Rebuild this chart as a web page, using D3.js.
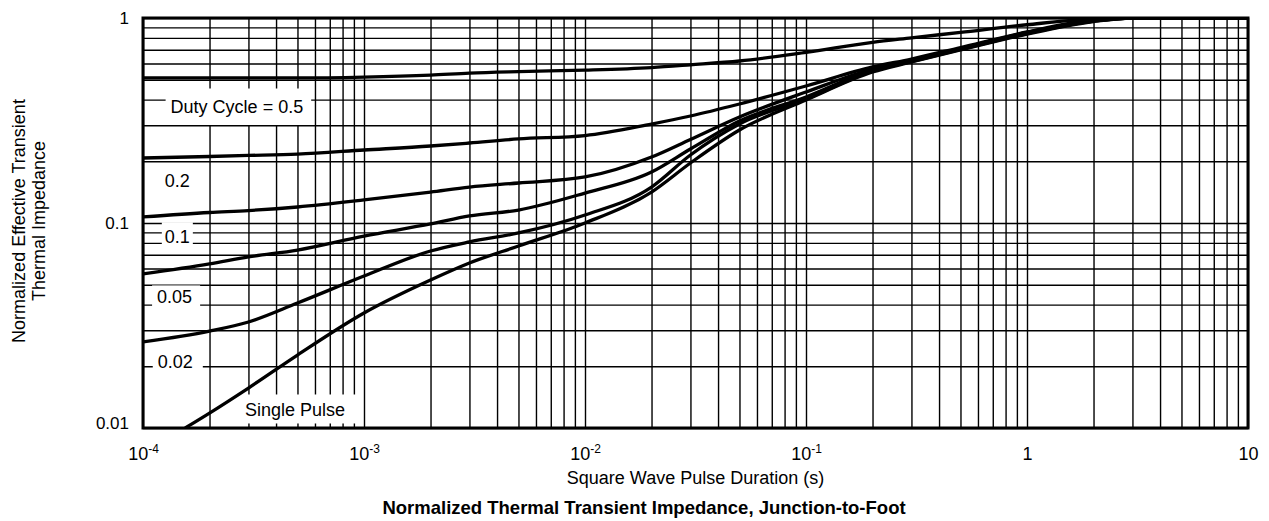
<!DOCTYPE html>
<html><head><meta charset="utf-8">
<script src="https://cdn.jsdelivr.net/npm/d3@7"></script>
<style>
body{margin:0;background:#fff;}
text{font-family:"Liberation Sans",Arial,Helvetica,sans-serif;fill:#000;}
</style>
</head><body><svg id="c" width="1269" height="521"></svg>
<script>
// ---------- data ----------
const pulseT = [1e-4,2e-4,3e-4,5e-4,1e-3,2e-3,3e-3,5e-3,1e-2,2e-2,3e-2,5e-2,0.1,0.2,0.3,0.5,1,2,3,10];
const duty05 = [0.51,0.51,0.51,0.51,0.515,0.527,0.539,0.548,0.557,0.573,0.591,0.617,0.68,0.761,0.80,0.851,0.927,0.991,1,1];
const duty02 = [0.2075,0.211,0.2135,0.217,0.227,0.2375,0.2456,0.257,0.267,0.304,0.3326,0.3806,0.466,0.577,0.631,0.718,0.855,0.978,1,1];
const duty01 = [0.107,0.1125,0.115,0.1197,0.1295,0.1416,0.1498,0.1567,0.1677,0.2099,0.2557,0.329,0.4355,0.564,0.62,0.71,0.85,0.972,1,1];
const duty005 = [0.0564,0.0631,0.0683,0.0738,0.0864,0.0989,0.1082,0.1157,0.140,0.1773,0.2296,0.3145,0.4118,0.557,0.617,0.706,0.845,0.967,1,1];
const duty002 = [0.0263,0.0297,0.0329,0.0407,0.0551,0.073,0.0808,0.0894,0.1094,0.1498,0.2146,0.304,0.4026,0.551,0.613,0.702,0.84,0.967,1,1];
const singleT = [1.55e-4,2e-4,3e-4,5e-4,1e-3,2e-3,3e-3,5e-3,1e-2,2e-2,3e-2,5e-2,0.1,0.2,0.3,0.5,1,2,3,10];
const singlePulse = [0.01,0.01183,0.01567,0.0227,0.0364,0.0527,0.0638,0.0772,0.100,0.1416,0.1962,0.2842,0.398,0.545,0.610,0.698,0.835,0.961,1,1];

const curveLabels = ["Duty Cycle = 0.5","0.2","0.1","0.05","0.02","Single Pulse"];
const labelT = [2.66e-4,1.43e-4,1.43e-4,1.39e-4,1.40e-4,4.87e-4];
const labelZ = [0.370,0.1603,0.0857,0.0436,0.021,0.01224];

const xTicks = [1e-4,1e-3,1e-2,1e-1,1,10];
const xTickBase = ["10","10","10","10","1","10"];
const xTickExp = ["-4","-3","-2","-1","",""];
const yTicks = [0.01,0.1,1];
const yTickLabels = ["0.01","0.1","1"];

const xTitle = "Square Wave Pulse Duration (s)";
const yTitle = ["Normalized Effective Transient","Thermal Impedance"];
const chartTitle = "Normalized Thermal Transient Impedance, Junction-to-Foot";

// ---------- layout / style ----------
const L = 143, R = 1248, T = 18, B = 428;
const labelPad = [[5,8,8.5,8],[5,6,4,4],[3,3,5,1],[5,8,2,1.5],[5,10,5,6],[32,15,6,3]];

const svg = d3.select("#c");
const x = d3.scaleLog().domain([1e-4,10]).range([L,R]);
const y = d3.scaleLog().domain([0.01,1]).range([B,T]);

// grid
const gx = svg.append("g").attr("transform",`translate(0,${B})`)
  .call(d3.axisBottom(x).tickValues(x.ticks()).tickSize(-(B-T)).tickFormat(""));
gx.select(".domain").remove();
gx.selectAll("line").attr("stroke","#000").attr("stroke-width",1.4);

const gy = svg.append("g").attr("transform",`translate(${L},0)`)
  .call(d3.axisLeft(y).tickValues(y.ticks()).tickSize(-(R-L)).tickFormat(""));
gy.select(".domain").remove();
gy.selectAll("line").attr("stroke","#000").attr("stroke-width",1.4);

// labels with white boxes
const lblG = svg.append("g");
const texts = curveLabels.map((s,i)=> lblG.append("text")
  .attr("x",x(labelT[i])).attr("y",y(labelZ[i])).attr("dy","0.36em")
  .attr("text-anchor","middle").attr("font-size",18).text(s));
texts.forEach((t,i)=>{
  const bb = t.node().getBBox(); const p = labelPad[i];
  lblG.insert("rect","text").attr("x",bb.x-p[0]).attr("y",bb.y-p[2])
    .attr("width",bb.width+p[0]+p[1]).attr("height",bb.height+p[2]+p[3]).attr("fill","#fff");
});

// curves
const series = [duty05,duty02,duty01,duty005,duty002].map(v=>v.map((z,i)=>[pulseT[i],z]));
series.push(singlePulse.map((z,i)=>[singleT[i],z]));
svg.append("clipPath").attr("id","clip").append("rect").attr("x",L).attr("y",T).attr("width",R-L).attr("height",B-T);
const line = d3.line().x(d=>x(d[0])).y(d=>y(d[1])).curve(d3.curveMonotoneX);
svg.append("g").attr("clip-path","url(#clip)").selectAll("path").data(series).join("path")
  .attr("d",line).attr("fill","none").attr("stroke","#000").attr("stroke-width",3.3).attr("stroke-linejoin","round");

// frame
svg.append("rect").attr("x",L).attr("y",T).attr("width",R-L).attr("height",B-T)
  .attr("fill","none").attr("stroke","#000").attr("stroke-width",3);

// x tick labels
const ax = svg.append("g").attr("transform",`translate(0,${B})`)
  .call(d3.axisBottom(x).tickValues(xTicks).tickSize(0).tickFormat(""));
ax.select(".domain").remove();
ax.selectAll(".tick").each(function(d,i){
  const t = d3.select(this).append("text").attr("y",32).attr("text-anchor","middle")
    .attr("font-size",18).attr("fill","#000");
  t.append("tspan").text(xTickBase[i]);
  if (xTickExp[i]) t.append("tspan").attr("dy",-7).attr("font-size",12).text(xTickExp[i]);
});

// y tick labels
const ay = svg.append("g").attr("transform",`translate(${L},0)`)
  .call(d3.axisLeft(y).tickValues(yTicks).tickSize(0).tickPadding(14).tickFormat((d,i)=>yTickLabels[i]));
ay.select(".domain").remove();
ay.selectAll("text").attr("font-size",17).attr("fill","#000").attr("font-family",null)
  .attr("dy",(d,i)=> i===0 ? "0.05em" : "0.32em");

// titles
svg.append("text").attr("x",(L+R)/2).attr("y",484).attr("text-anchor","middle").attr("font-size",18).text(xTitle);
svg.append("text").attr("x",644).attr("y",514).attr("text-anchor","middle").attr("font-size",18.5)
  .attr("font-weight","bold").text(chartTitle);
yTitle.forEach((s,i)=> svg.append("text").attr("transform",`translate(${25+i*20},221) rotate(-90)`)
  .attr("text-anchor","middle").attr("font-size",18).text(s));
</script>
</body></html>
